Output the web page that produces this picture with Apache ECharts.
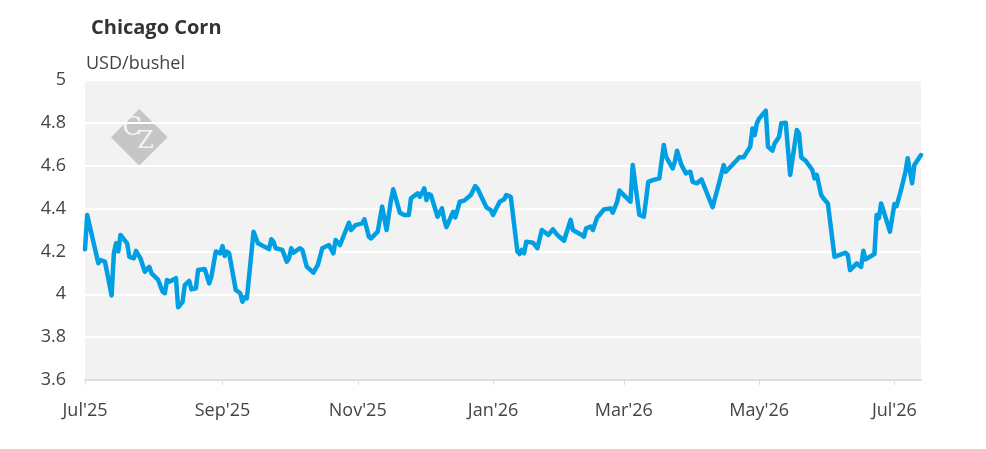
<!DOCTYPE html>
<html>
<head>
<meta charset="utf-8">
<script src="https://cdn.jsdelivr.net/npm/echarts@6/dist/echarts.min.js"></script>
<style>
html,body{margin:0;padding:0;background:#fff;}
#chart{width:986px;height:449px;}
</style>
</head>
<body>
<div id="chart"></div>
<script>
var titleText = 'Chicago Corn';
var unitText = 'USD/bushel';
var monthNames = ['Jan','Feb','Mar','Apr','May','Jun','Jul','Aug','Sep','Oct','Nov','Dec'];
var yTicks = {min: 3.6, max: 5, interval: 0.2};

var dates = [
'2025-07-01','2025-07-02','2025-07-07','2025-07-08','2025-07-10','2025-07-13','2025-07-14','2025-07-15','2025-07-16','2025-07-17',
'2025-07-20','2025-07-21','2025-07-23','2025-07-24','2025-07-26','2025-07-28','2025-07-30','2025-07-31','2025-08-03','2025-08-05',
'2025-08-06','2025-08-07','2025-08-08','2025-08-11','2025-08-12','2025-08-14','2025-08-15','2025-08-17','2025-08-18','2025-08-20',
'2025-08-21','2025-08-24','2025-08-26','2025-08-27','2025-08-29','2025-08-31','2025-09-01','2025-09-02','2025-09-03','2025-09-04',
'2025-09-07','2025-09-09','2025-09-10','2025-09-11','2025-09-12','2025-09-15','2025-09-17','2025-09-20','2025-09-22','2025-09-23',
'2025-09-24','2025-09-25','2025-09-28','2025-09-30','2025-10-01','2025-10-02','2025-10-03','2025-10-06','2025-10-07','2025-10-09',
'2025-10-12','2025-10-14','2025-10-16','2025-10-19','2025-10-21','2025-10-22','2025-10-24','2025-10-28','2025-10-29','2025-10-31',
'2025-11-03','2025-11-04','2025-11-06','2025-11-07','2025-11-10','2025-11-12','2025-11-14','2025-11-16','2025-11-17','2025-11-19',
'2025-11-20','2025-11-22','2025-11-24','2025-11-25','2025-11-28','2025-11-29','2025-12-01','2025-12-02','2025-12-03','2025-12-04',
'2025-12-07','2025-12-09','2025-12-10','2025-12-11','2025-12-14','2025-12-15','2025-12-17','2025-12-19','2025-12-22','2025-12-24',
'2025-12-25','2025-12-29','2025-12-31','2026-01-01','2026-01-04','2026-01-06','2026-01-07','2026-01-09','2026-01-12','2026-01-13',
'2026-01-14','2026-01-15','2026-01-16','2026-01-19','2026-01-21','2026-01-23','2026-01-26','2026-01-28','2026-01-30','2026-02-02',
'2026-02-05','2026-02-06','2026-02-10','2026-02-11','2026-02-12','2026-02-14','2026-02-15','2026-02-17','2026-02-18','2026-02-20',
'2026-02-23','2026-02-24','2026-02-26','2026-02-27','2026-03-02','2026-03-04','2026-03-05','2026-03-08','2026-03-10','2026-03-11',
'2026-03-12','2026-03-14','2026-03-17','2026-03-19','2026-03-20','2026-03-23','2026-03-24','2026-03-25','2026-03-27','2026-03-29',
'2026-03-31','2026-04-01','2026-04-03','2026-04-05','2026-04-10','2026-04-13','2026-04-15','2026-04-16','2026-04-21','2026-04-22',
'2026-04-24','2026-04-27','2026-04-28','2026-04-29','2026-04-30','2026-05-01','2026-05-04','2026-05-05','2026-05-07','2026-05-08',
'2026-05-10','2026-05-11','2026-05-13','2026-05-15','2026-05-18','2026-05-19','2026-05-20','2026-05-22','2026-05-25','2026-05-26',
'2026-05-27','2026-05-29','2026-05-30','2026-06-01','2026-06-04','2026-06-09','2026-06-10','2026-06-11','2026-06-14','2026-06-16',
'2026-06-17','2026-06-18','2026-06-22','2026-06-23','2026-06-24','2026-06-25','2026-06-26','2026-06-29','2026-07-01','2026-07-02',
'2026-07-04','2026-07-06','2026-07-07','2026-07-09','2026-07-10','2026-07-13'
];

var prices = [
4.21,4.37,4.145,4.16,4.152,3.995,4.19,4.238,4.20,4.277,
4.238,4.175,4.168,4.203,4.168,4.105,4.128,4.098,4.067,4.012,
4.005,4.067,4.059,4.075,3.939,3.965,4.043,4.062,4.023,4.028,
4.113,4.118,4.051,4.082,4.20,4.191,4.225,4.179,4.199,4.191,
4.02,4.005,3.965,3.986,3.981,4.292,4.238,4.222,4.211,4.257,
4.245,4.215,4.207,4.152,4.168,4.215,4.194,4.215,4.207,4.129,
4.101,4.137,4.215,4.23,4.191,4.253,4.23,4.334,4.30,4.323,
4.331,4.35,4.269,4.261,4.292,4.409,4.30,4.44,4.49,4.417,
4.381,4.37,4.37,4.448,4.471,4.455,4.494,4.44,4.468,4.463,
4.362,4.401,4.347,4.313,4.385,4.359,4.432,4.437,4.463,4.505,
4.494,4.406,4.393,4.37,4.432,4.443,4.463,4.455,4.20,4.188,
4.207,4.191,4.245,4.241,4.215,4.30,4.277,4.303,4.277,4.25,
4.347,4.30,4.277,4.269,4.308,4.316,4.30,4.359,4.37,4.396,
4.401,4.381,4.432,4.484,4.452,4.432,4.603,4.37,4.362,4.44,
4.525,4.533,4.541,4.697,4.642,4.587,4.619,4.67,4.603,4.564,
4.572,4.525,4.518,4.536,4.406,4.521,4.603,4.572,4.627,4.639,
4.639,4.689,4.774,4.743,4.798,4.82,4.857,4.689,4.67,4.704,
4.735,4.798,4.801,4.557,4.767,4.751,4.639,4.623,4.58,4.541,
4.557,4.463,4.448,4.424,4.175,4.194,4.183,4.113,4.144,4.128,
4.203,4.163,4.188,4.37,4.355,4.424,4.393,4.292,4.421,4.412,
4.487,4.572,4.635,4.518,4.603,4.65
];

var seriesData = dates.map(function(d, i){ return [d, prices[i]]; });

var chart = echarts.init(document.getElementById('chart'), null, {renderer: 'canvas'});
var font = '"Open Sans", "Noto Sans", sans-serif';

chart.setOption({
  animation: false,
  backgroundColor: '#ffffff',
  textStyle: {fontFamily: font},
  title: [
    {text: titleText, left: 86, top: 13, textStyle: {fontFamily: font, fontSize: 20, fontWeight: 'bold', color: '#333333'}},
    {text: unitText, left: 81, top: 50, textStyle: {fontFamily: font, fontSize: 18, fontWeight: 'normal', color: '#444444'}}
  ],
  grid: {left: 85, right: 65, top: 80, bottom: 69, show: true, backgroundColor: '#f2f2f2', borderWidth: 0, containLabel: false},
  graphic: [
    {type: 'group', left: 111, top: 109, children: [
      {type: 'rect', shape: {x: -20, y: -20, width: 40, height: 40}, x: 28, y: 28, rotation: Math.PI/4, style: {fill: '#c6c6c6'}},
      {type: 'text', x: 11, y: 6, style: {text: 'C', font: '26px "DejaVu Serif", "Liberation Serif", serif', fill: '#f4f4f4'}},
      {type: 'text', x: 26, y: 20, style: {text: 'Z', font: '24px "DejaVu Serif", "Liberation Serif", serif', fill: '#f4f4f4'}}
    ]}
  ],
  xAxis: {
    type: 'time',
    min: dates[0],
    max: dates[dates.length - 1],
    splitNumber: 5,
    axisLine: {show: true, lineStyle: {color: '#dddddd', width: 2}},
    axisTick: {show: true, length: 5, lineStyle: {color: '#dddddd', width: 1}},
    axisLabel: {
      margin: 22,
      fontSize: 18,
      color: '#444444',
      fontFamily: font,
      hideOverlap: false,
      formatter: function(val){
        var d = new Date(val);
        return monthNames[d.getMonth()] + "'" + String(d.getFullYear()).slice(2);
      }
    },
    splitLine: {show: false}
  },
  yAxis: {
    type: 'value',
    min: yTicks.min,
    max: yTicks.max,
    interval: yTicks.interval,
    axisLine: {show: false},
    axisTick: {show: false},
    axisLabel: {fontSize: 18, color: '#444444', margin: 19, fontFamily: font,
      formatter: function(v){ return String(Math.round(v * 10) / 10); }},
    splitLine: {show: true, lineStyle: {color: '#ffffff', width: 2}}
  },
  series: [{
    type: 'line',
    data: seriesData,
    showSymbol: false,
    symbol: 'none',
    lineStyle: {color: '#009fe3', width: 4.5, join: 'round', cap: 'round'},
    z: 3
  }]
});
</script>
</body>
</html>
